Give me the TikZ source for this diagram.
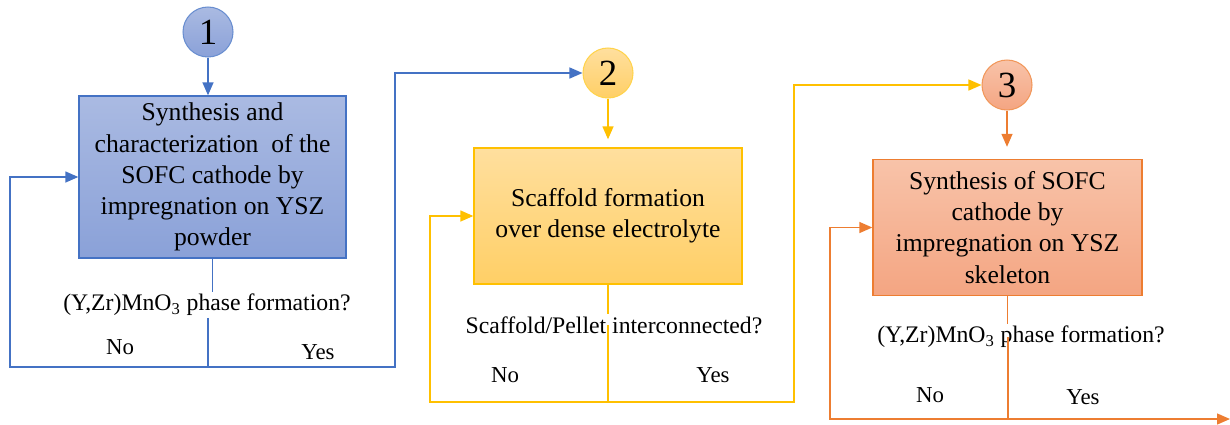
\documentclass[tikz,border=0pt]{standalone}
\usepackage{fontspec}
\setmainfont{Liberation Serif}
\usetikzlibrary{arrows.meta, positioning}
\definecolor{lineBlue}{HTML}{4472C4}
\definecolor{lineGold}{HTML}{FFC000}
\definecolor{lineOrange}{HTML}{ED7D31}
\definecolor{blueTop}{HTML}{AABAE2}
\definecolor{blueBot}{HTML}{8AA1D8}
\definecolor{goldTop}{HTML}{FFDF9E}
\definecolor{goldBot}{HTML}{FFCF66}
\definecolor{orangeTop}{HTML}{F8C3A9}
\definecolor{orangeBot}{HTML}{F4A582}

\tikzset{
    stage/.style={draw, line width=0.8pt, align=center, inner sep=2pt,
        font=\fontsize{14.6}{17.7}\selectfont},
    badge/.style={circle, draw, line width=0.6pt, minimum size=1cm, inner sep=0pt,
        font=\fontsize{21}{21}\selectfont},
    query/.style={inner sep=1pt, font=\fontsize{13.5}{16}\selectfont},
    answer/.style={inner sep=1pt, font=\fontsize{13}{15}\selectfont},
    link/.style={line width=0.8pt},
}

\begin{document}
\begin{tikzpicture}[x=0.02cm, y=-0.02cm, >={Triangle[length=0.26cm, width=0.22cm]}]
    \useasboundingbox (0,0) rectangle (1230,424);

    % stage 1
    \node[badge, draw=lineBlue!80, top color=blueTop, bottom color=blueBot] (c1) at (208,32) {1};
    \node[stage, draw=lineBlue, top color=blueTop, bottom color=blueBot,
        minimum width=5.34cm, minimum height=3.24cm] (b1) at (212.5,177)
        {Synthesis and\\characterization\ \ of the\\SOFC cathode by\\impregnation on YSZ\\powder};
    \node[query] (q1) at (207,305) {(Y,Zr)MnO\textsubscript{3} phase formation?};
    \node[answer] (no1) at (120,347) {No};
    \node[answer] (yes1) at (318,352) {Yes};
    \coordinate (j1) at (208,367);
    \coordinate (n1) at (10,367);
    \coordinate (y1) at (395,367);

    % stage 2
    \node[badge, draw=lineGold!70, top color=goldTop, bottom color=goldBot] (c2) at (608,73) {2};
    \node[stage, draw=lineGold, top color=goldTop, bottom color=goldBot,
        minimum width=5.36cm, minimum height=2.72cm] (b2) at (608,216)
        {Scaffold formation\\over dense electrolyte};
    \node[query] (q2) at (614,325) {Scaffold/Pellet interconnected?};
    \node[answer] (no2) at (505,375) {No};
    \node[answer] (yes2) at (713,375) {Yes};
    \coordinate (j2) at (608,402);
    \coordinate (n2) at (430,402);
    \coordinate (y2) at (794,402);

    % stage 3
    \node[badge, draw=lineOrange!80, top color=orangeTop, bottom color=orangeBot] (c3) at (1007,85) {3};
    \node[stage, draw=lineOrange, top color=orangeTop, bottom color=orangeBot,
        minimum width=5.38cm, minimum height=2.72cm] (b3) at (1007.5,227.5)
        {Synthesis of SOFC\\cathode by\\impregnation on YSZ\\skeleton};
    \node[query] (q3) at (1021,337) {(Y,Zr)MnO\textsubscript{3} phase formation?};
    \node[answer] (no3) at (930,395) {No};
    \node[answer] (yes3) at (1083,397) {Yes};
    \coordinate (j3) at (1008,419);
    \coordinate (n3) at (830,419);
    \coordinate (e3) at (1230,419);

    % connectors
    \draw[->, link, lineBlue] (c1) -- (c1 |- b1.north);
    \draw[link, lineBlue] (b1.south) -- (q1.north -| b1.south);
    \draw[link, lineBlue] (q1.south -| j1) -- (j1);
    \draw[->, link, lineBlue] (j1) -- (n1) |- (b1.west);
    \draw[->, link, lineBlue] (j1) -- (y1) |- (c2.west);

    \draw[->, link, lineGold, shorten >=0.16cm] (c2) -- (c2 |- b2.north);
    \draw[link, lineGold] (b2.south) -- (q2.north -| b2.south);
    \draw[link, lineGold] (q2.center -| j2) -- (j2);
    \draw[->, link, lineGold] (j2) -- (n2) |- (b2.west);
    \draw[->, link, lineGold] (j2) -- (y2) |- (c3.west);

    \draw[->, link, lineOrange, shorten >=0.24cm] (c3) -- (c3 |- b3.north);
    \draw[link, lineOrange] (b3.south) -- (q3.north -| b3.south);
    \draw[link, lineOrange] (q3.center -| j3) -- (j3);
    \draw[->, link, lineOrange] (j3) -- (n3) |- (b3.west);
    \draw[->, link, lineOrange] (j3) -- (e3);
\end{tikzpicture}
\end{document}
